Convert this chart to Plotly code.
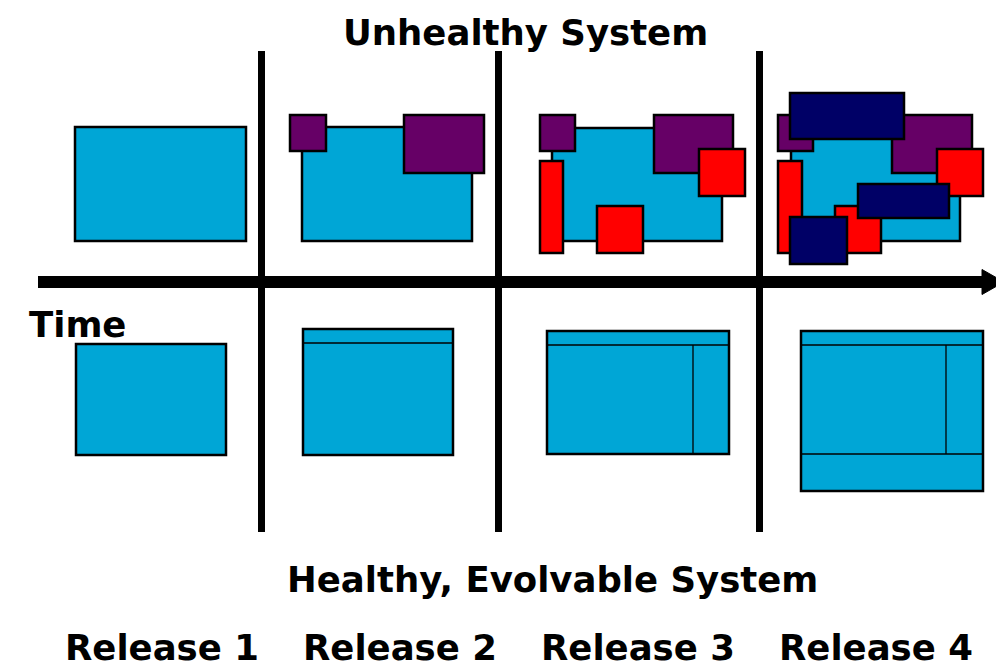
import plotly.graph_objects as go

W, H = 1004, 670
PAGE_MARGIN = 8  # browser's default body margin

# Colours of the component kinds
kind_colors = {"core": "#00A6D6", "patch": "#660066", "hack": "#FF0000", "kludge": "#000066"}

# ---- Unhealthy system (top row): rectangles, drawn in list order ----
top_kind = ["core",
            "core", "patch", "patch",
            "core", "patch", "patch", "hack", "hack", "hack",
            "core", "patch", "patch", "hack", "hack", "hack", "kludge", "kludge", "kludge"]
top_x0 = [75, 302, 290, 404, 552, 540, 654, 699, 540, 597, 791, 778, 892, 937, 778, 835, 790, 858, 790]
top_x1 = [246, 472, 326, 484, 722, 575, 733, 745, 563, 643, 960, 813, 972, 983, 802, 881, 904, 949, 847]
top_y0 = [127, 127, 115, 115, 128, 115, 115, 149, 161, 206, 128, 115, 115, 149, 161, 206, 93, 184, 217]
top_y1 = [241, 241, 151, 173, 241, 151, 173, 196, 253, 253, 241, 151, 173, 196, 253, 253, 139, 218, 264]

# ---- Healthy system (bottom row): outer boxes ----
bot_x0 = [76, 303, 547, 801]
bot_x1 = [226, 453, 729, 983]
bot_y0 = [344, 329, 331, 331]
bot_y1 = [455, 455, 454, 491]
# internal partition lines
part_x0 = [303, 547, 693, 801, 946, 801]
part_x1 = [453, 729, 693, 983, 946, 983]
part_y0 = [343, 345, 345, 345, 345, 454]
part_y1 = [343, 345, 454, 345, 454, 454]

# ---- Release separators and time axis ----
sep_x = [261.5, 498.5, 759.5]
sep_y = [51, 532]
time_x = [38, 983]
time_y = 282
head_tip = 1004
head_half = 12.5

# ---- Texts ----
release_labels = ["Release 1", "Release 2", "Release 3", "Release 4"]
release_x = [162, 400, 638, 876]
release_y = 646
title_top = "Unhealthy System"
title_bottom = "Healthy, Evolvable System"
time_label = "Time"

FONT = "DejaVu Sans"
FS = 35.5

fig = go.Figure()
shapes = []

for x in sep_x:
    shapes.append(dict(type="line", xref="x", yref="y", x0=x, x1=x, y0=sep_y[0], y1=sep_y[1],
                       line=dict(color="black", width=7)))

shapes.append(dict(type="line", xref="x", yref="y", x0=time_x[0], x1=time_x[1], y0=time_y, y1=time_y,
                   line=dict(color="black", width=12)))
shapes.append(dict(type="path", xref="x", yref="y",
                   path=f"M {time_x[1]-1} {time_y-head_half} L {head_tip} {time_y} L {time_x[1]-1} {time_y+head_half} Z",
                   fillcolor="black", line=dict(color="black", width=1)))

for k, x0, x1, y0, y1 in zip(top_kind, top_x0, top_x1, top_y0, top_y1):
    shapes.append(dict(type="rect", xref="x", yref="y", x0=x0, x1=x1, y0=y0, y1=y1,
                       fillcolor=kind_colors[k], line=dict(color="black", width=2.5)))

for x0, x1, y0, y1 in zip(bot_x0, bot_x1, bot_y0, bot_y1):
    shapes.append(dict(type="rect", xref="x", yref="y", x0=x0, x1=x1, y0=y0, y1=y1,
                       fillcolor=kind_colors["core"], line=dict(color="black", width=2.5)))
for x0, x1, y0, y1 in zip(part_x0, part_x1, part_y0, part_y1):
    shapes.append(dict(type="line", xref="x", yref="y", x0=x0, x1=x1, y0=y0, y1=y1,
                       line=dict(color="black", width=1.3)))

annotations = []
def txt(s, x, y):
    annotations.append(dict(text=f"<b>{s}</b>", x=x, y=y, xref="x", yref="y", showarrow=False,
                            xanchor="center", yanchor="middle",
                            font=dict(family=FONT, size=FS, color="black")))

txt(title_top, 525, 32)
txt(time_label, 77.5, 324)
txt(title_bottom, 552, 579)
for lab, x in zip(release_labels, release_x):
    txt(lab, x, release_y + 1)

fig.update_layout(
    width=W - PAGE_MARGIN, height=H - PAGE_MARGIN, margin=dict(l=0, r=0, t=0, b=0),
    paper_bgcolor="white", plot_bgcolor="white",
    xaxis=dict(range=[PAGE_MARGIN, W], visible=False, fixedrange=True),
    yaxis=dict(range=[H, PAGE_MARGIN], visible=False, fixedrange=True),
    shapes=shapes, annotations=annotations, showlegend=False,
)

fig.write_html("out.html", config={"displayModeBar": False})
